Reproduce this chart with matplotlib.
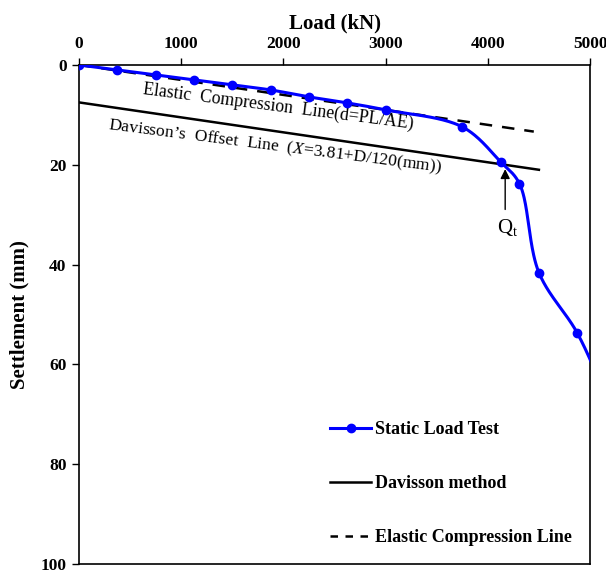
import numpy as np
import matplotlib
matplotlib.use("Agg")
import matplotlib.pyplot as plt
from matplotlib.lines import Line2D

plt.rcParams["font.family"] = ["Liberation Serif", "DejaVu Serif"]
plt.rcParams["mathtext.fontset"] = "custom"
plt.rcParams["mathtext.rm"] = "Liberation Serif"
plt.rcParams["mathtext.it"] = "Liberation Serif:italic"

# Static load test readings
load_kN = [0, 375, 750, 1125, 1500, 1875, 2250, 2625, 3000, 3750, 4125, 4310, 4500, 4875, 5150]
settlement_mm = [0, 1.0, 2.0, 3.0, 4.0, 5.0, 6.4, 7.6, 9.0, 12.4, 19.4, 23.8, 41.6, 53.7, 66.0]

# Elastic compression line d = PL/AE and Davisson offset line
elastic_slope = 0.003          # mm per kN
elastic_load = [0, 4450]
davisson_offset = 7.5          # mm
davisson_load = [0, 4500]
qt_load = 4170

x_ticks = [0, 1000, 2000, 3000, 4000, 5000]
y_ticks = [0, 20, 40, 60, 80, 100]


def smooth(x, y, n=40, alpha=0.5):
    """Centripetal Catmull-Rom curve through consecutive readings."""
    sx, sy = 0.1022, 4.99      # scale so both axes weigh alike
    pts = np.column_stack([np.asarray(x, float) * sx, np.asarray(y, float) * sy])
    pts = np.vstack([2 * pts[0] - pts[1], pts, 2 * pts[-1] - pts[-2]])
    out = []
    for i in range(1, len(pts) - 2):
        p0, p1, p2, p3 = pts[i - 1], pts[i], pts[i + 1], pts[i + 2]
        t0 = 0.0
        t1 = t0 + np.linalg.norm(p1 - p0) ** alpha
        t2 = t1 + np.linalg.norm(p2 - p1) ** alpha
        t3 = t2 + np.linalg.norm(p3 - p2) ** alpha
        t = np.linspace(t1, t2, n, endpoint=False)[:, None]
        a1 = (t1 - t) / (t1 - t0) * p0 + (t - t0) / (t1 - t0) * p1
        a2 = (t2 - t) / (t2 - t1) * p1 + (t - t1) / (t2 - t1) * p2
        a3 = (t3 - t) / (t3 - t2) * p2 + (t - t2) / (t3 - t2) * p3
        b1 = (t2 - t) / (t2 - t0) * a1 + (t - t0) / (t2 - t0) * a2
        b2 = (t3 - t) / (t3 - t1) * a2 + (t - t1) / (t3 - t1) * a3
        out.append((t2 - t) / (t2 - t1) * b1 + (t - t1) / (t2 - t1) * b2)
    out.append(pts[-2][None, :])
    out = np.vstack(out)
    return out[:, 0] / sx, out[:, 1] / sy


fig = plt.figure(figsize=(6.06, 5.73), dpi=100)
ax = fig.add_axes([0.1304, 0.0157, 0.8432, 0.8709])

sx, sy = smooth(load_kN, settlement_mm)
ax.plot(sx, sy, color="#0000ff", lw=2.2, zorder=4)
ax.plot(load_kN, settlement_mm, "o", color="#0000ff", ms=6, zorder=5)

el_x = np.array(elastic_load)
ax.plot(el_x, elastic_slope * el_x, color="black", lw=1.8, ls=(0, (5, 4)), zorder=3)
dv_x = np.array(davisson_load)
ax.plot(dv_x, davisson_offset + elastic_slope * dv_x, color="black", lw=1.8, zorder=3)

# Q_t marker arrow
qt_y = davisson_offset + elastic_slope * qt_load
ax.annotate("", xy=(qt_load, qt_y + 0.3), xytext=(qt_load, qt_y + 9.5),
            arrowprops=dict(arrowstyle="-|>", color="black", lw=1.0,
                            mutation_scale=14), zorder=6)
ax.text(qt_load + 20, qt_y + 12.6, "Q$_\\mathrm{t}$", fontsize=15, ha="center", va="center")

ax.text(1950, 8.4, "Elastic  Compression  Line(d=PL/AE)", fontsize=12.8,
        rotation=-7.3, ha="center", va="center", rotation_mode="anchor")
ax.text(1920, 16.4, "Davisson’s  Offset  Line  ($\\mathit{X}$=3.81+D/120(mm))", fontsize=12.6,
        rotation=-7.3, ha="center", va="center", rotation_mode="anchor")

ax.set_xlim(0, 5000)
ax.set_ylim(100, 0)
ax.xaxis.tick_top()
ax.xaxis.set_label_position("top")
ax.set_xticks(x_ticks)
ax.set_yticks(y_ticks)
ax.tick_params(axis="both", direction="out", length=5, width=1, labelsize=12.5, pad=4)
for lab in ax.get_xticklabels() + ax.get_yticklabels():
    lab.set_fontweight("bold")
ax.set_xlabel("Load (kN)", fontsize=15, fontweight="bold", labelpad=6)
ax.set_ylabel("Settlement (mm)", fontsize=15, fontweight="bold", labelpad=8)
for sp in ax.spines.values():
    sp.set_linewidth(1.2)

handles = [
    Line2D([], [], color="#0000ff", lw=2.2, marker="o", ms=6),
    Line2D([], [], color="black", lw=1.8),
    Line2D([], [], color="black", lw=1.8, ls=(0, (3, 3))),
]
labels = ["Static Load Test", "Davisson method", "Elastic Compression Line"]
leg = ax.legend(handles, labels, loc="lower right", bbox_to_anchor=(1.0, 0.0),
                frameon=False, handlelength=2.3, handletextpad=0.2,
                labelspacing=2.05, prop={"weight": "bold", "size": 13},
                borderaxespad=0.6)

fig.savefig("out.png", dpi=100)
